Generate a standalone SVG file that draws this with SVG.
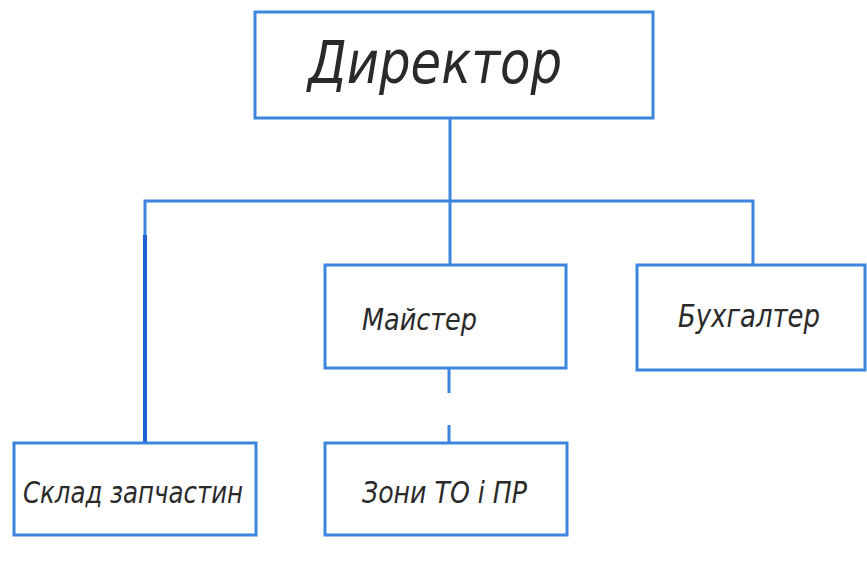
<svg xmlns="http://www.w3.org/2000/svg" width="867" height="578" viewBox="0 0 867 578">
  <style>
    .box { fill: #ffffff; stroke: #3a86dc; stroke-width: 3; }
    .ln { fill: none; stroke: #3a86dc; stroke-width: 3; }
    .thick { fill: none; stroke: #1b62d6; stroke-width: 4; }
    .t { font-family: "DejaVu Sans Condensed", "Liberation Sans Narrow", "Liberation Sans", sans-serif; font-style: italic; font-weight: 300; fill: #2a2a2a; }
  </style>
  <rect x="0" y="0" width="867" height="578" fill="#ffffff"/>
  <g id="connectors">
    <line class="ln" x1="450" y1="118" x2="450" y2="265"/>
    <polyline class="ln" points="145,237 145,201 753,201 753,265"/>
    <line class="thick" x1="145" y1="235" x2="145" y2="443"/>
    <line class="ln" x1="449" y1="368" x2="449" y2="393"/>
    <line class="ln" x1="449" y1="425" x2="449" y2="443"/>
  </g>
  <g id="director">
    <rect class="box" x="255" y="12" width="398" height="106"/>
    <text class="t" x="308" y="83" font-size="58" textLength="254" lengthAdjust="spacingAndGlyphs">Директор</text>
  </g>
  <g id="maister">
    <rect class="box" x="325" y="265" width="241" height="103"/>
    <text class="t" x="362" y="330" font-size="30" textLength="115" lengthAdjust="spacingAndGlyphs">Майстер</text>
  </g>
  <g id="buhhalter">
    <rect class="box" x="637" y="265" width="228" height="105"/>
    <text class="t" x="678" y="327" font-size="32" textLength="142" lengthAdjust="spacingAndGlyphs">Бухгалтер</text>
  </g>
  <g id="sklad">
    <rect class="box" x="14" y="443" width="242" height="92"/>
    <text class="t" x="23" y="503" font-size="30" textLength="220" lengthAdjust="spacingAndGlyphs">Склад запчастин</text>
  </g>
  <g id="zony">
    <rect class="box" x="325" y="443" width="242" height="92"/>
    <text class="t" x="362" y="503" font-size="30" textLength="165" lengthAdjust="spacingAndGlyphs">Зони ТО і ПР</text>
  </g>
</svg>
